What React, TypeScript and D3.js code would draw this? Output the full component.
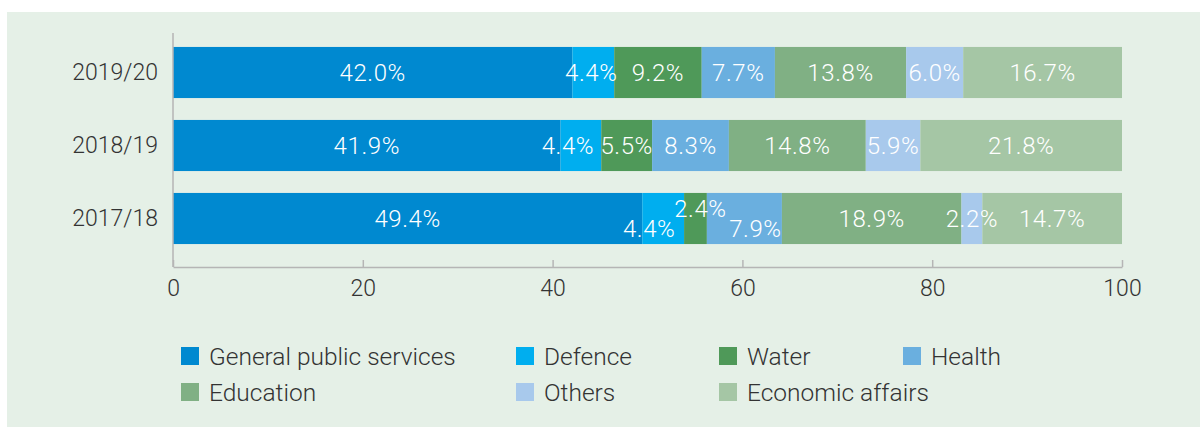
import React, { useEffect, useRef } from "react";
import * as d3 from "d3";

const years = ["2019/20", "2018/19", "2017/18"];
const categories = [
  "General public services",
  "Defence",
  "Water",
  "Health",
  "Education",
  "Others",
  "Economic affairs",
];
const generalPublic = [42.0, 41.9, 49.4];
const defence = [4.4, 4.4, 4.4];
const water = [9.2, 5.5, 2.4];
const health = [7.7, 8.3, 7.9];
const education = [13.8, 14.8, 18.9];
const others = [6.0, 5.9, 2.2];
const economic = [16.7, 21.8, 14.7];
const xTicks = [0, 20, 40, 60, 80, 100];

const seriesValues = [generalPublic, defence, water, health, education, others, economic];
const colors = ["#0089d0", "#00aeef", "#4f9959", "#6aafdf", "#80b084", "#a8c9ec", "#a5c6a5"];

// small label nudges where the original moved labels off centre
const labelNudge: Record<string, [number, number]> = {
  "2019/20|Defence": [-2, 0],
  "2018/19|Defence": [-13, 0],
  "2017/18|Defence": [-14, 10],
  "2017/18|Water": [5, -10],
  "2017/18|Health": [11, 10],
};

const App = () => {
  const svgRef = useRef<SVGSVGElement>(null);

  useEffect(() => {
    const width = 1200;
    const height = 427;
    const svg = d3.select(svgRef.current).attr("width", width).attr("height", height);
    svg.selectAll("*").remove();

    const font = "Roboto, 'Open Sans', sans-serif";

    svg
      .append("rect")
      .attr("x", 7)
      .attr("y", 12)
      .attr("width", width - 7)
      .attr("height", height - 12)
      .attr("fill", "#e5f0e7");

    const rows = years.map((y, i) => {
      const r: any = { year: y };
      categories.forEach((c, j) => (r[c] = seriesValues[j][i]));
      return r;
    });

    const stack = d3.stack().keys(categories).offset(d3.stackOffsetExpand);
    const series = stack(rows);

    const x = d3.scaleLinear().domain([0, 1]).range([173, 1122]);
    const y = d3.scaleBand().domain(years).range([36, 255]).paddingInner(0.3).paddingOuter(0.15);

    const g = svg.append("g");

    series.forEach((s, j) => {
      g.append("g")
        .attr("fill", colors[j])
        .selectAll("rect")
        .data(s)
        .join("rect")
        .attr("x", (d) => x(d[0]))
        .attr("y", (d) => y(d.data.year as string)!)
        .attr("width", (d) => x(d[1]) - x(d[0]))
        .attr("height", y.bandwidth());
    });

    series.forEach((s, j) => {
      g.append("g")
        .selectAll("text")
        .data(s)
        .join("text")
        .attr("x", (d) => {
          const n = labelNudge[`${d.data.year}|${categories[j]}`];
          return (x(d[0]) + x(d[1])) / 2 + (n ? n[0] : 0);
        })
        .attr("y", (d) => {
          const n = labelNudge[`${d.data.year}|${categories[j]}`];
          return y(d.data.year as string)! + y.bandwidth() / 2 + (n ? n[1] : 0);
        })
        .attr("text-anchor", "middle")
        .attr("dominant-baseline", "central")
        .attr("fill", "#ffffff")
        .attr("font-family", font)
        .attr("font-weight", 300)
        .attr("font-size", 24)
        .attr("letter-spacing", 0.6)
        .text((d) => `${(d.data[categories[j]] as number).toFixed(1)}%`);
    });

    // y axis line and labels
    svg
      .append("line")
      .attr("x1", 173)
      .attr("x2", 173)
      .attr("y1", 33)
      .attr("y2", 267)
      .attr("stroke", "#b5b5b5")
      .attr("stroke-width", 1.5);

    svg
      .append("g")
      .selectAll("text")
      .data(years)
      .join("text")
      .attr("x", 158)
      .attr("y", (d) => y(d)! + y.bandwidth() / 2)
      .attr("text-anchor", "end")
      .attr("dominant-baseline", "central")
      .attr("fill", "#333333")
      .attr("font-family", font)
      .attr("font-weight", 300)
      .attr("font-size", 23)
      .text((d) => d);

    const xAxis = svg
      .append("g")
      .attr("transform", "translate(0,267)")
      .call(
        d3
          .axisBottom(x)
          .tickValues(xTicks.map((t) => t / 100))
          .tickFormat((d) => `${Math.round((d as number) * 100)}`)
          .tickSize(-7)
          .tickSizeOuter(0)
          .tickPadding(13)
      );
    xAxis.select(".domain").attr("stroke", "#b5b5b5").attr("stroke-width", 1.5);
    xAxis.selectAll(".tick line").attr("stroke", "#b5b5b5").attr("stroke-width", 1.5);
    xAxis
      .selectAll(".tick text")
      .attr("fill", "#333333")
      .attr("font-family", font)
      .attr("font-weight", 300)
      .attr("font-size", 23)
      .attr("dy", "0.71em");

    // legend
    const legendX = [181, 516, 719, 903];
    const legendY = [347, 383];
    const legend = svg
      .append("g")
      .selectAll("g")
      .data(categories)
      .join("g")
      .attr("transform", (d, i) => `translate(${legendX[i % 4]},${legendY[Math.floor(i / 4)]})`);
    legend
      .append("rect")
      .attr("width", 18)
      .attr("height", 18)
      .attr("fill", (d, i) => colors[i]);
    legend
      .append("text")
      .attr("x", 28)
      .attr("y", 9)
      .attr("dominant-baseline", "central")
      .attr("fill", "#333333")
      .attr("font-family", font)
      .attr("font-weight", 300)
      .attr("font-size", 24.5)
      .text((d) => d);
  }, []);

  return <svg ref={svgRef} style={{ position: "absolute", left: 0, top: 0 }}></svg>;
};

export default App;
